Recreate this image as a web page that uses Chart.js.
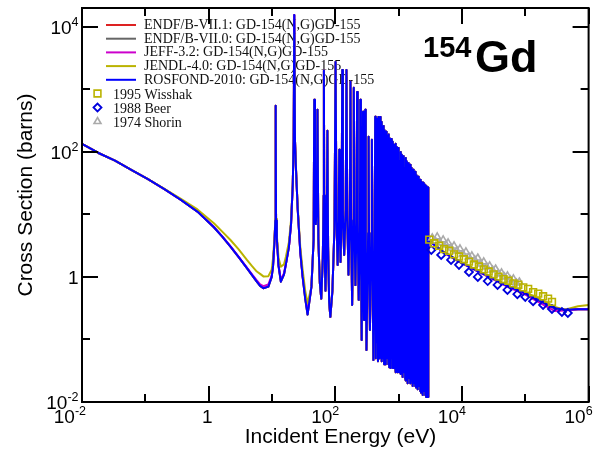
<!DOCTYPE html>
<html>
<head>
<meta charset="utf-8">
<script src="https://cdn.jsdelivr.net/npm/chart.js@4.4.1/dist/chart.umd.min.js"></script>
<style>
  html, body { margin: 0; padding: 0; background: #fff; overflow: hidden; }
  #wrap { width: 595px; height: 451px; position: relative; }
</style>
</head>
<body>
<div id="wrap"><canvas id="xs" width="595" height="451"></canvas></div>
<script>
// Gd-154 (n,gamma) capture cross section, energies in eV, cross sections in barns.

// Thermal / 1/v region
const eThermal = [0.01, 0.0182, 0.0332, 0.060, 0.110, 0.200, 0.365, 0.665, 1.21, 1.64, 2.21, 2.98, 4.02, 4.81, 5.76, 6.5, 7.32, 8.77, 9.9];
const xsThermalEndf  = [134, 96, 72.6, 51.5, 36.6, 25.3, 17.1, 11.1, 6.24, 4.41, 3.06, 2.07, 1.38, 1.08, 0.84, 0.72, 0.66, 0.70, 1.0];
const xsThermalJeff  = [134, 96, 72.6, 51.5, 36.6, 25.3, 17.2, 11.2, 6.3, 4.45, 3.1, 2.1, 1.41, 1.11, 0.88, 0.76, 0.71, 0.76, 1.05];
const xsThermalJendl = [134, 96, 72.6, 51.5, 36.6, 25.6, 17.8, 12.0, 7.2, 5.3, 3.9, 2.75, 1.87, 1.5, 1.22, 1.12, 1.02, 1.03, 1.3];

// First two resonances (11.5 eV and 22.5 eV)
const eLowRes = [10.4, 11.0, 11.3, 11.45, 11.6, 11.95, 12.7, 13.8, 15.5, 16.6, 18.5, 20.0, 21.3, 22.0, 22.5, 23.1, 24.0, 25.5, 28.0, 30.5, 33.5, 36.5];
const xsLowResEndf  = [1.5, 4, 8, 545, 8, 4, 1.5, 0.84, 1.1, 1.6, 3, 7, 30, 150, 15500, 150, 50, 12, 2.5, 1.0, 0.45, 0.25];
const xsLowResJeff  = [1.55, 4, 8, 545, 8, 4, 1.55, 0.9, 1.15, 1.65, 3, 7, 30, 150, 15500, 150, 50, 12, 2.6, 1.05, 0.5, 0.28];
const xsLowResJendl = [2.0, 4.5, 8.5, 545, 8.5, 4.5, 2.0, 1.45, 1.6, 2.1, 3.6, 8, 32, 150, 8000, 150, 52, 13, 3, 1.3, 0.6, 0.38];

// Resolved resonance region, 42 eV - 2.94 keV: [energy, cross section]
const resolvedPoints = [
  [42, 0.7], [45.5, 4], [46.5, 680], [47.8, 12], [49.2, 7], [51.0, 14], [52.3, 470], [54, 4], [57, 0.8], [60, 0.45],
  [63.5, 2], [65.5, 20], [66.1, 2000], [66.8, 20], [68.5, 1.5], [70, 0.6], [73, 3], [75, 217], [77, 3], [80, 0.4], [83.5, 0.23],
  [90, 0.6], [97, 6], [101, 2750], [104.5, 8], [109, 1.55], [113, 8], [115.5, 108], [118, 6], [121, 1.74],
  [126, 10], [128.6, 2040], [132, 10], [138, 2.25], [146, 12], [150, 2040], [155, 8], [161.5, 1.08],
  [170, 10], [173.5, 1320], [178, 6], [184.5, 0.356], [192, 8], [196, 1060], [201, 6], [207.6, 0.74],
  [217, 8], [220.7, 910], [226, 5], [234.5, 0.43], [245, 8], [248.5, 680], [254, 3], [261, 0.098],
  [270, 6], [273.8, 440], [278, 4], [284, 0.205], [293, 8], [297.4, 470], [303, 3], [310.5, 0.068],
  [330, 5], [336.3, 174], [342, 2], [352.4, 0.142], [370, 5], [378.5, 156], [388, 1], [399.6, 0.047],
  [420, 8], [426.6, 363],
  [436, 0.05], [447, 300], [455, 0.09], [463, 340], [472, 0.045], [480, 360], [487, 0.3], [494, 250],
  [503, 0.05], [511, 360], [519, 0.06], [528, 200], [536, 0.045], [545, 300], [553, 0.14], [562, 170],
  [571, 0.05], [580, 260], [589, 0.04], [598, 220], [608, 0.07], [617, 140], [627, 0.04], [637, 210],
  [647, 0.05], [657, 180], [667, 0.25], [677, 120], [688, 0.04], [699, 190], [709, 0.036], [720, 165],
  [731, 0.08], [742, 150], [754, 0.035], [766, 160], [778, 0.05], [790, 110], [802, 0.035], [814, 145],
  [827, 0.2], [840, 130], [853, 0.035], [866, 95], [879, 0.04], [893, 135], [906, 0.03], [920, 120],
  [934, 0.06], [949, 85], [963, 0.03], [978, 115], [993, 0.035], [1008, 105], [1024, 0.03], [1040, 70],
  [1056, 0.1], [1072, 100], [1088, 0.028], [1105, 90], [1122, 0.035], [1139, 60], [1157, 0.025], [1175, 85],
  [1193, 0.03], [1211, 78], [1230, 0.05], [1249, 55], [1268, 0.024], [1287, 80], [1307, 0.022], [1327, 70],
  [1347, 0.03], [1368, 48], [1389, 0.02], [1410, 66], [1432, 0.024], [1454, 60], [1476, 0.06], [1499, 40],
  [1522, 0.02], [1545, 62], [1569, 0.022], [1593, 55], [1617, 0.03], [1642, 38], [1667, 0.018], [1693, 52],
  [1719, 0.02], [1745, 47], [1772, 0.04], [1799, 33], [1827, 0.018], [1855, 48], [1883, 0.017], [1912, 42],
  [1941, 0.025], [1971, 30], [2001, 0.016], [2032, 40], [2063, 0.018], [2095, 36], [2127, 0.03], [2160, 26],
  [2193, 0.015], [2227, 36], [2261, 0.014], [2296, 33], [2331, 0.02], [2367, 24], [2403, 0.013], [2440, 32],
  [2478, 0.015], [2516, 30], [2555, 0.025], [2594, 22], [2634, 0.013], [2675, 29], [2716, 0.012], [2758, 28],
  [2800, 0.014], [2843, 25], [2887, 0.012], [2920, 27], [2935, 0.012]
];

// Unresolved / fast region
const eUnresolved = [2950, 4990, 9080, 16500, 30200, 54900, 100000, 182000, 294000, 422000, 681000, 1000000];
const xsUnresEndf  = [3.9, 2.54, 1.76, 1.29, 0.95, 0.70, 0.55, 0.40, 0.315, 0.30, 0.305, 0.305];
const xsUnresJeff  = [3.9, 2.5, 1.74, 1.27, 0.93, 0.68, 0.52, 0.37, 0.285, 0.29, 0.305, 0.305];
const xsUnresJendl = [4.0, 2.6, 1.8, 1.32, 0.98, 0.72, 0.57, 0.43, 0.33, 0.30, 0.34, 0.356];

// Measurements
const eWisshak  = [3050, 3650, 4370, 5230, 6270, 7500, 8980, 10700, 12900, 15400, 18500, 22100, 26400, 31600, 37800, 45300, 54200, 64900, 77600, 92900, 111000, 133000, 160000, 191000, 229000, 264000];
const xsWisshak = [3.95, 3.45, 3.15, 2.78, 2.62, 2.30, 2.12, 1.92, 1.76, 1.58, 1.47, 1.32, 1.22, 1.10, 1.01, 0.92, 0.87, 0.79, 0.75, 0.68, 0.645, 0.57, 0.54, 0.49, 0.45, 0.40];
const eBeer  = [3280, 4700, 6730, 8980, 12900, 17800, 25500, 36500, 52300, 75000, 100000, 133000, 191000, 264000, 379000, 470000];
const xsBeer = [2.70, 2.25, 1.87, 1.56, 1.20, 1.00, 0.86, 0.745, 0.62, 0.53, 0.48, 0.41, 0.356, 0.308, 0.275, 0.265];
const eShorin  = [3398, 3786, 4067, 4531, 5048, 5623, 6040, 6730, 7499, 8354, 9307, 10370, 11550, 12870, 14340, 15970, 17780, 19810, 22070, 24590, 27380, 30510, 33980, 37860, 42170, 46980, 52330, 58300, 64940, 72340, 80580];
const xsShorin = [4.21, 3.77, 4.37, 3.50, 3.91, 3.25, 3.50, 2.91, 3.13, 2.61, 2.81, 2.33, 2.51, 2.09, 2.17, 1.87, 2.01, 1.61, 1.74, 1.45, 1.50, 1.29, 1.34, 1.12, 1.16, 1.0, 1.04, 0.895, 0.929, 0.80, 0.83];

// Axis ticks
const xMajorTicks = [1e-2, 1, 1e2, 1e4, 1e6];
const xTickLabels = ['10^-2', '1', '10^2', '10^4', '10^6'];
const xMinorTicks = [1e-1, 1e1, 1e3, 1e5];
const yMajorTicks = [1e-2, 1, 1e2, 1e4];
const yTickLabels = ['10^-2', '1', '10^2', '10^4'];
const yMinorTicks = [1e-1, 1e1, 1e3];

// Legend texts
const curveLabels = [
  'ENDF/B-VII.1: GD-154(N,G)GD-155',
  'ENDF/B-VII.0: GD-154(N,G)GD-155',
  'JEFF-3.2: GD-154(N,G)GD-155',
  'JENDL-4.0: GD-154(N,G)GD-155',
  'ROSFOND-2010: GD-154(N,G)GD-155'
];
const expLabels = ['1995 Wisshak', '1988 Beer', '1974 Shorin'];

const toXY = (es, vs) => es.map((e, i) => ({ x: e, y: vs[i] }));
const resolvedXY = resolvedPoints.map(p => ({ x: p[0], y: p[1] }));

const endfCurve = [].concat(toXY(eThermal, xsThermalEndf), toXY(eLowRes, xsLowResEndf), resolvedXY, toXY(eUnresolved, xsUnresEndf));
const jeffCurve = [].concat(toXY(eThermal, xsThermalJeff), toXY(eLowRes, xsLowResJeff), resolvedXY, toXY(eUnresolved, xsUnresJeff));
const jendlCurve = [].concat(toXY(eThermal, xsThermalJendl), toXY(eLowRes, xsLowResJendl), resolvedXY, toXY(eUnresolved, xsUnresJendl));

const OLIVE = '#bab300';

function curve(label, color, data, order) {
  return {
    label, data, order,
    showLine: true, borderColor: color, borderWidth: 2, backgroundColor: color,
    pointRadius: 0, pointHoverRadius: 0, tension: 0, fill: false,
    borderJoinStyle: 'round', borderCapStyle: 'round'
  };
}
function markers(label, color, style, radius, width, data) {
  return {
    label, data, order: 0, showLine: false,
    pointStyle: style, pointRadius: radius, pointHoverRadius: radius,
    borderColor: color, pointBorderColor: color,
    borderWidth: width, pointBorderWidth: width,
    backgroundColor: 'rgba(0,0,0,0)', pointBackgroundColor: 'rgba(0,0,0,0)'
  };
}

const datasets = [
  curve(curveLabels[0], '#dd2222', endfCurve, 6),
  curve(curveLabels[1], '#666666', endfCurve, 5),
  curve(curveLabels[2], '#cc00cc', jeffCurve, 4),
  curve(curveLabels[3], OLIVE, jendlCurve, 3),
  curve(curveLabels[4], '#0000ff', endfCurve, 2),
  markers(expLabels[0], OLIVE, 'rect', 4.8, 1.6, toXY(eWisshak, xsWisshak)),
  markers(expLabels[1], '#0000dd', 'rectRot', 4, 1.8, toXY(eBeer, xsBeer)),
  markers(expLabels[2], '#aaaaaa', 'triangle', 4, 1.6, toXY(eShorin, xsShorin))
];

const SANS = '"Liberation Sans", Arial, sans-serif';
const SERIF = '"Liberation Serif", "Times New Roman", serif';

// "10^n" style label, right-aligned at xRight
function drawPowerLabel(ctx, text, xRight, baseline) {
  const parts = text.split('^');
  ctx.textAlign = 'right';
  ctx.textBaseline = 'alphabetic';
  let xr = xRight;
  if (parts.length > 1) {
    ctx.font = '12.5px ' + SANS;
    ctx.fillText(parts[1], xr, baseline - 8);
    xr -= ctx.measureText(parts[1]).width;
  }
  ctx.font = '19px ' + SANS;
  ctx.fillText(parts[0], xr, baseline);
}

function drawLegend(chart) {
  const ctx = chart.ctx;
  ctx.save();
  ctx.textAlign = 'left';
  ctx.textBaseline = 'alphabetic';
  let iLine = 0, iMark = 0;
  chart.data.datasets.forEach(ds => {
    if (ds.showLine) {
      const y = 25 + 13.7 * iLine++;
      ctx.strokeStyle = ds.borderColor;
      ctx.lineWidth = 2;
      ctx.beginPath(); ctx.moveTo(106, y); ctx.lineTo(136, y); ctx.stroke();
      ctx.font = '14px ' + SERIF;
      ctx.fillStyle = '#111';
      ctx.fillText(ds.label, 144, y + 4);
    } else {
      const y = 93.5 + 14 * iMark++;
      ctx.strokeStyle = ds.pointBorderColor;
      ctx.fillStyle = 'rgba(0,0,0,0)';
      ctx.lineWidth = ds.pointBorderWidth;
      Chart.helpers.drawPoint(ctx, { pointStyle: ds.pointStyle, radius: ds.pointRadius, borderWidth: ds.pointBorderWidth, rotation: 0 }, 97.5, y);
      ctx.font = '14px ' + SERIF;
      ctx.fillStyle = '#111';
      ctx.fillText(ds.label, 113, y + 5);
    }
  });
  ctx.restore();
}

function drawAxes(chart) {
  const { ctx, chartArea: ca, scales } = chart;
  const xs = scales.x, ys = scales.y;
  const MAJ = 16, MIN = 8;
  ctx.save();
  ctx.strokeStyle = '#000';
  ctx.lineWidth = 2;
  ctx.strokeRect(ca.left, ca.top, ca.right - ca.left, ca.bottom - ca.top);
  ctx.beginPath();
  const xTick = (v, len) => {
    const px = Math.round(xs.getPixelForValue(v));
    ctx.moveTo(px, ca.bottom); ctx.lineTo(px, ca.bottom - len);
    ctx.moveTo(px, ca.top); ctx.lineTo(px, ca.top + len);
  };
  const yTick = (v, len) => {
    const py = Math.round(ys.getPixelForValue(v));
    ctx.moveTo(ca.left, py); ctx.lineTo(ca.left + len, py);
    ctx.moveTo(ca.right, py); ctx.lineTo(ca.right - len, py);
  };
  xMajorTicks.forEach(v => xTick(v, MAJ));
  xMinorTicks.forEach(v => xTick(v, MIN));
  yMajorTicks.forEach(v => yTick(v, MAJ));
  yMinorTicks.forEach(v => yTick(v, MIN));
  ctx.stroke();

  ctx.fillStyle = '#000';
  xMajorTicks.forEach((v, i) => drawPowerLabel(ctx, xTickLabels[i], xs.getPixelForValue(v) + 4, 423));
  yMajorTicks.forEach((v, i) => drawPowerLabel(ctx, yTickLabels[i], 78.5, ys.getPixelForValue(v) + 7));

  // axis titles
  ctx.font = '21px ' + SANS;
  ctx.textAlign = 'center';
  ctx.textBaseline = 'alphabetic';
  ctx.fillText('Incident Energy (eV)', 340.5, 443);
  ctx.save();
  ctx.translate(31.5, 195);
  ctx.rotate(-Math.PI / 2);
  ctx.fillText('Cross Section (barns)', 0, 0);
  ctx.restore();

  // isotope tag
  ctx.textAlign = 'left';
  ctx.font = 'bold 29px ' + SANS;
  ctx.fillText('154', 423, 57);
  ctx.font = 'bold 45px ' + SANS;
  ctx.fillText('Gd', 475, 72);
  ctx.restore();
}

const frameAndText = {
  id: 'frameAndText',
  beforeDatasetsDraw(chart) { drawLegend(chart); },
  afterDatasetsDraw(chart) { drawAxes(chart); }
};

new Chart(document.getElementById('xs'), {
  type: 'scatter',
  data: { datasets },
  options: {
    responsive: false,
    animation: false,
    devicePixelRatio: 1,
    events: [],
    layout: { padding: { left: 82, top: 8, right: 1, bottom: 49 } },
    plugins: { legend: { display: false }, tooltip: { enabled: false }, title: { display: false } },
    scales: {
      x: { type: 'logarithmic', min: 0.01, max: 1e6, display: false },
      y: { type: 'logarithmic', min: 0.01, max: 2e4, display: false }
    }
  },
  plugins: [frameAndText]
});
</script>
</body>
</html>
